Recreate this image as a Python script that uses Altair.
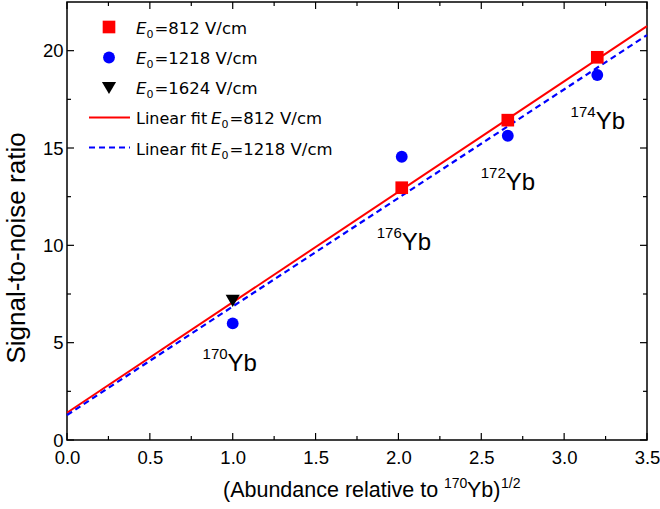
import altair as alt
import pandas as pd

# ---- data ----
x_812 = [2.02, 2.66, 3.20]
y_812 = [12.96, 16.43, 19.66]
x_1218 = [1.00, 2.02, 2.66, 3.20]
y_1218 = [5.99, 14.55, 15.63, 18.75]
x_1624 = [1.00]
y_1624 = [7.15]
fit_x = [0.0, 3.5]
fit_812 = [1.40, 21.26]
fit_1218 = [1.28, 20.80]

iso_mass = ["170", "176", "172", "174"]
iso_x = [0.969, 2.02, 2.648, 3.19]
iso_y = [3.56, 9.76, 12.84, 15.96]

x_major = [0.0, 0.5, 1.0, 1.5, 2.0, 2.5, 3.0, 3.5]
x_minor = [0.25, 0.75, 1.25, 1.75, 2.25, 2.75, 3.25]
y_major = [0, 5, 10, 15, 20]
y_minor = [2.5, 7.5, 12.5, 17.5]

W, H = 580, 438
PL, PT = 67, 2
FONT = "Liberation Sans"
LFONT = "DejaVu Sans"
RED, BLUE = "#ff0000", "#0000ff"

xs = alt.Scale(domain=[0, 3.5], nice=False, zero=False)
ys = alt.Scale(domain=[0, 22.5], nice=False, zero=False)

x_axis = alt.Axis(values=x_major, format=".1f", ticks=False, tickSize=0, domain=False, grid=False,
                  labelFont=FONT, labelFontSize=18.5, labelColor="black", labelPadding=8,
                  labelFlush=False, labelOverlap=False, title=None)
y_axis = alt.Axis(values=y_major, format="d", ticks=False, tickSize=0, domain=False, grid=False,
                  labelFont=FONT, labelFontSize=18.5, labelColor="black", labelPadding=4,
                  labelOverlap=False, title=None)

df812 = pd.DataFrame({"x": x_812, "y": y_812})
df1218 = pd.DataFrame({"x": x_1218, "y": y_1218})
df1624 = pd.DataFrame({"x": x_1624, "y": y_1624})
dffit812 = pd.DataFrame({"x": fit_x, "y": fit_812})
dffit1218 = pd.DataFrame({"x": fit_x, "y": fit_1218})
dfiso = pd.DataFrame({"x": iso_x, "y": iso_y, "m": iso_mass})
one = pd.DataFrame({"a": [0]})

X = lambda: alt.X("x:Q", scale=xs, axis=x_axis)
Y = lambda: alt.Y("y:Q", scale=ys, axis=y_axis)

layers = []

# fit lines
layers.append(alt.Chart(dffit812).mark_line(color=RED, strokeWidth=2).encode(x=X(), y=Y()))
layers.append(alt.Chart(dffit1218).mark_line(color=BLUE, strokeWidth=2.2, strokeDash=[6, 4]).encode(x=X(), y=Y()))

# points
layers.append(alt.Chart(df1218).mark_point(shape="circle", filled=True, color=BLUE, size=140, opacity=1).encode(x=X(), y=Y()))
layers.append(alt.Chart(df812).mark_point(shape="square", filled=True, color=RED, size=160, opacity=1).encode(x=X(), y=Y()))
layers.append(alt.Chart(df1624).mark_point(shape="triangle-down", filled=True, color="black", size=200, opacity=1).encode(x=X(), y=Y()))

# isotope annotations
layers.append(alt.Chart(dfiso).mark_text(align="left", baseline="alphabetic", font=FONT, fontSize=24, color="black", text="Yb").encode(x=X(), y=Y()))
layers.append(alt.Chart(dfiso).mark_text(align="right", baseline="alphabetic", font=FONT, fontSize=15, color="black", dy=-12).encode(x=X(), y=Y(), text="m:N"))

# tick marks (inward)
def ticks_x(vals, length, top):
    d = pd.DataFrame({"x": vals})
    if top:
        return alt.Chart(d).mark_rule(color="black", strokeWidth=1.2).encode(x=X(), y=alt.value(0), y2=alt.value(length))
    return alt.Chart(d).mark_rule(color="black", strokeWidth=1.2).encode(x=X(), y=alt.value(H), y2=alt.value(H - length))

def ticks_y(vals, length, right):
    d = pd.DataFrame({"y": vals})
    if right:
        return alt.Chart(d).mark_rule(color="black", strokeWidth=1.2).encode(y=Y(), x=alt.value(W), x2=alt.value(W - length))
    return alt.Chart(d).mark_rule(color="black", strokeWidth=1.2).encode(y=Y(), x=alt.value(0), x2=alt.value(length))

for top in (False, True):
    layers.append(ticks_x(x_major, 7, top))
    layers.append(ticks_x(x_minor, 4, top))
for right in (False, True):
    layers.append(ticks_y(y_major, 7, right))
    layers.append(ticks_y(y_minor, 4, right))

# ---- helpers for pixel-placed text (absolute page coords) ----
def ptext(px, py, txt, font=FONT, size=19, style="normal", align="left", angle=0, baseline="alphabetic"):
    kw = dict(align=align, baseline=baseline, font=font, fontSize=size, fontStyle=style, color="black", text=txt)
    if angle:
        kw["angle"] = angle
    return alt.Chart(one).mark_text(**kw).encode(x=alt.value(px - PL), y=alt.value(py - PT))

# axis titles
layers.append(ptext(17, 248, "Signal-to-noise ratio", size=26, align="center", angle=270, baseline="middle"))
tb = 497
layers.append(ptext(223, tb, "(Abundance relative to ", size=21.5))
layers.append(ptext(444, tb - 9, "170", size=14))
layers.append(ptext(467, tb, "Yb)", size=21.5))
layers.append(ptext(501, tb - 9, "1/2", size=14))

# ---- legend ----
def lmark(px, py, shape, color, size):
    return alt.Chart(one).mark_point(shape=shape, filled=True, color=color, size=size, opacity=1).encode(
        x=alt.value(px - PL), y=alt.value(py - PT))

def lline(x1, x2, py, color, dash=None):
    kw = dict(color=color, strokeWidth=2)
    if dash:
        kw["strokeDash"] = dash
    return alt.Chart(one).mark_rule(**kw).encode(x=alt.value(x1 - PL), x2=alt.value(x2 - PL), y=alt.value(py - PT))

def e0(px, py, rest):
    return [ptext(px, py, "E", font=LFONT, size=16.5, style="italic"),
            ptext(px + 10.5, py + 4, "0", font=LFONT, size=11),
            ptext(px + 18.5, py, rest, font=LFONT, size=16.5)]

layers.append(lmark(109, 27, "square", RED, 160))
layers += e0(136, 33.5, "=812 V/cm")
layers.append(lmark(109, 57.5, "circle", BLUE, 140))
layers += e0(136, 63.5, "=1218 V/cm")
layers.append(lmark(109, 88, "triangle-down", "black", 200))
layers += e0(136, 94, "=1624 V/cm")
layers.append(lline(89, 130, 117.5, RED))
layers.append(ptext(136, 124, "Linear fit", font=LFONT, size=16))
layers += e0(211, 124, "=812 V/cm")
layers.append(lline(89, 130, 147.5, BLUE, [6, 4]))
layers.append(ptext(136, 155, "Linear fit", font=LFONT, size=16))
layers += e0(211, 155, "=1218 V/cm")

chart = alt.layer(*layers).properties(
    width=W, height=H,
    autosize=alt.AutoSizeParams(type="none"),
    padding={"left": PL, "top": PT, "right": 660 - PL - W, "bottom": 509 - PT - H},
    background="white",
).configure_view(stroke="black", strokeWidth=1.5)

chart.save("out.html", embed_options={"renderer": "svg", "actions": False})
